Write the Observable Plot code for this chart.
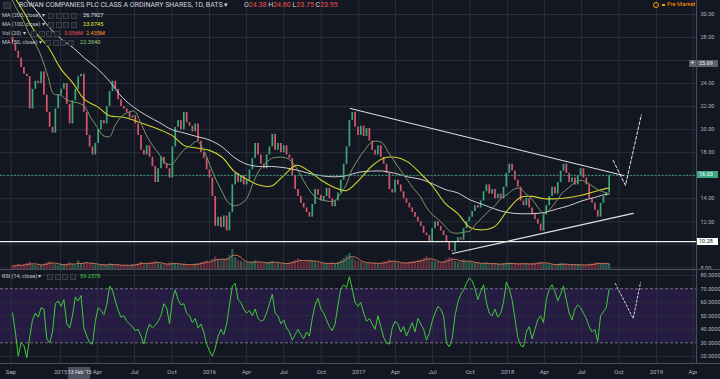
<!DOCTYPE html>
<html><head><meta charset="utf-8">
<script src="https://cdn.jsdelivr.net/npm/d3@7"></script>
<script src="https://cdn.jsdelivr.net/npm/@observablehq/plot@0.6"></script>
<style>
html,body{margin:0;padding:0;background:#131722;overflow:hidden}
#wrap{position:relative;width:720px;height:379px;overflow:hidden;background:#131722;font-family:Roboto,"Open Sans",sans-serif}
#main,#rsi{position:absolute;left:0}
#main{top:0}#rsi{top:270px}
.t{position:absolute;white-space:nowrap;line-height:1}
.bx{position:absolute;width:6px;height:6px;border:1px solid #3a3e4a;background:#1c202b;box-sizing:border-box}
.ln{position:absolute;background:#4a4e5a}
.tag{position:absolute;left:697px;width:21px;height:7px;font-size:5.5px;line-height:7px;text-align:left;padding-left:2px;box-sizing:border-box;white-space:nowrap}
</style></head>
<body><div id="wrap"><div id="main"></div><div id="rsi"></div><div id="ov"></div></div>
<script>
// ---------- data ----------
const startWeek = "2014-09-05";   // first weekly bar
const firstOpen = 28.0;
const closes = [
27.5,26.8,26.2,25.4,24.8,24.6,21.8,23.5,24.2,24.0,
25.0,23.0,21.5,20.2,19.7,21.8,23.0,23.5,24.0,22.2,
20.5,22.5,23.5,24.6,24.8,21.5,19.5,18.5,17.8,18.8,
20.0,20.8,20.5,22.0,23.3,24.2,23.5,22.6,22.0,21.8,
21.5,21.0,21.2,20.5,19.5,18.2,17.8,18.6,17.6,16.8,
15.4,16.6,17.6,17.0,16.6,15.8,18.5,20.2,20.8,20.0,
21.5,20.6,20.3,19.8,20.5,19.0,18.0,17.5,16.5,15.8,
14.2,11.6,12.4,11.5,12.5,11.2,12.8,15.2,16.2,15.4,
16.0,15.2,15.6,16.5,17.5,18.8,17.8,17.0,16.6,17.8,
18.5,19.6,18.2,18.8,18.0,18.6,17.8,17.5,16.0,14.8,
14.2,13.6,13.2,12.8,12.4,13.5,14.8,14.3,13.8,14.2,
14.9,14.0,13.3,13.8,14.5,15.6,17.0,18.5,20.8,21.5,
20.2,19.5,20.3,19.4,20.1,19.0,18.2,17.8,18.6,17.6,
17.0,16.2,14.8,14.5,15.6,15.2,14.6,14.0,13.6,13.2,
12.8,12.4,12.0,11.6,11.0,10.8,10.2,11.4,12.0,11.6,
11.2,10.8,10.2,9.5,9.4,10.2,10.6,10.4,11.4,12.0,
12.4,12.9,13.4,13.2,13.8,14.6,15.2,14.4,14.8,14.0,
14.4,14.0,15.0,16.2,17.0,16.4,15.6,15.0,13.8,13.4,
14.0,13.2,12.6,12.2,11.8,11.2,12.6,13.4,14.2,15.0,
14.4,15.4,16.4,17.0,16.2,15.4,15.8,15.2,16.0,16.6,
15.8,15.2,14.0,13.6,13.0,12.4,13.6,14.2,14.5,16.03];
const rsiValues = [
52,38,20,30,28,19,34,47,52,49,
56,55,33,30,38,59,61,57,62,44,
41,50,64,61,65,41,35,30,29,46,
56,54,51,58,72,69,61,54,49,50,
46,44,42,39,40,35,29,38,44,41,
43,46,50,59,56,44,62,69,62,58,
59,52,50,45,48,41,44,38,29,24,
20,26,35,40,36,44,58,72,74,62,
60,55,52,54,50,55,48,46,47,52,
59,66,52,50,44,47,41,38,32,36,
40,36,33,38,35,48,58,63,55,52,
47,42,39,44,58,70,73,71,79,70,
60,57,60,52,46,48,44,40,50,42,
34,30,29,41,46,44,38,42,35,40,
45,38,48,44,40,32,37,46,52,57,
55,50,30,27,33,50,60,66,69,74,
78,76,70,62,68,73,60,52,50,55,
49,52,60,75,70,62,48,34,28,27,
38,42,33,40,47,50,45,62,70,73,
68,61,66,72,62,52,47,55,58,56,
52,48,42,38,40,31,50,53,56,70];
const volumes = [
2.2,2.6,3.1,2.4,2.8,3.5,4.2,2.9,2.5,3.0,
2.7,3.2,3.8,4.4,3.6,2.9,2.6,3.1,2.8,3.3,
3.9,3.0,2.7,4.8,3.5,3.6,4.0,3.2,3.7,2.9,
2.8,2.6,3.0,2.7,3.4,2.9,2.5,2.8,2.4,2.6,
2.7,2.5,2.9,3.1,3.6,4.1,3.4,3.0,3.8,4.2,
4.6,3.5,3.1,2.9,3.2,3.8,3.6,3.3,2.9,3.0,
3.2,2.8,2.7,3.0,3.3,3.5,3.9,4.3,4.8,4.1,
5.6,6.8,5.2,4.9,5.5,6.2,7.5,10.5,6.4,5.1,
4.6,4.2,4.0,3.8,4.3,4.9,4.1,3.7,3.5,3.9,
4.2,4.6,3.8,3.5,3.3,3.6,3.4,3.9,4.5,5.0,
5.8,4.9,4.4,4.6,5.2,4.8,4.1,3.7,3.5,3.6,
3.4,3.3,3.8,3.5,4.0,4.9,6.0,7.2,8.5,6.1,
5.0,4.4,4.1,3.9,3.6,3.8,3.5,3.7,3.4,3.6,
4.2,4.6,5.3,4.5,4.0,3.8,3.5,3.7,3.9,4.1,
4.4,4.6,4.9,5.2,5.9,6.8,5.5,4.7,4.3,4.0,
3.8,4.4,5.6,6.5,5.8,4.6,4.1,4.5,5.4,4.6,
4.2,3.9,3.6,3.8,3.4,3.5,3.8,3.3,3.1,3.4,
3.2,3.0,3.5,3.8,3.6,3.2,3.0,3.3,3.7,3.5,
3.1,3.0,3.4,3.6,3.9,4.2,3.7,3.3,3.0,2.9,
2.8,3.1,3.4,3.2,2.9,2.7,2.8,3.0,2.9,2.7,
2.6,2.8,3.1,3.3,3.6,3.9,3.4,3.2,3.5,3.1];
// monthly (1st of month, Sep 2014 .. Sep 2018, then 7 Sep 2018)
const ma200 = [32.8,31.6,30.4,29.0,
27.9,27.1,26.2,25.3,24.2,22.8,21.9,21.2,20.6,20.0,19.7,19.4,
19.1,18.5,17.6,17.0,16.8,16.8,16.7,16.5,16.2,16.0,15.9,16.0,
16.3,16.4,16.4,16.2,15.9,15.7,15.3,14.8,14.5,13.9,13.5,13.1,
12.8,12.7,12.7,12.8,13.1,13.4,13.8,14.1,14.4,14.4];
const ma100 = [32.0,30.3,28.4,27.2,
25.3,24.0,22.6,22.0,21.2,21.1,20.8,20.4,20.0,19.5,18.6,18.4,
18.2,17.6,16.4,15.7,15.2,15.1,16.0,16.9,16.4,15.6,15.0,14.7,
15.6,16.8,17.5,17.6,17.2,16.2,15.1,13.6,12.7,11.5,11.3,11.6,
13.0,14.1,14.2,14.0,14.0,14.1,14.3,14.6,14.9,14.9];
// semi-monthly (1st and 15th, Sep 2014 .. 1 Sep 2018, then 7 Sep 2018)
const ma50 = [31.5,30.5,29.5,28.4,27.4,26.3,24.6,23.1,
23.0,22.6,22.4,22.3,22.0,21.1,20.2,19.5,19.4,20.4,21.2,21.5,21.6,20.7,19.4,18.6,17.8,17.1,17.0,17.6,18.3,18.6,19.0,18.4,
17.0,15.8,14.6,13.7,13.4,13.5,14.0,15.2,16.4,17.0,17.5,17.6,17.6,17.4,16.7,15.8,14.8,14.2,13.9,13.8,13.8,14.3,15.2,16.5,
17.5,18.2,18.9,19.0,18.8,18.0,17.1,16.4,15.6,14.9,14.2,13.3,12.6,12.2,11.6,11.1,11.0,11.1,11.2,11.8,12.4,12.9,13.4,14.0,
14.4,14.8,14.9,14.4,14.0,13.3,12.7,13.1,13.8,14.5,15.0,15.4,15.6,15.4,15.0,14.7,14.5,14.4];
const priceGrid = [8,10,12,14,16,18,20,22,24,26,28,30];
const priceLabels = [8,12,14,18,20,22,24,28,30];   // 10, 16 and 26 sit under the price tags
const rsiTicks = [20,30,40,50,60,70,80];
const rsiGridLevels = [20,40,50,60,80];
const rsiBand = [30,70];
const xTickDates = ["2014-09-01","2015-01-01","2015-04-01","2015-07-01","2015-10-01","2016-01-01","2016-04-01","2016-07-01","2016-10-01","2017-01-01","2017-04-01","2017-07-01","2017-10-01","2018-01-01","2018-04-01","2018-07-01","2018-10-01","2019-01-01","2019-04-01"];
const lastPrice = 16.03, supportLevel = 10.28, crossPrice = 25.69, crossDate = "2015-02-13";
const upperTrend = [["2016-12-11",21.84],["2018-10-12",16.02]];
const lowerTrend = [["2017-08-19",9.24],["2018-11-05",12.72]];
const priceProjection = [["2018-09-17",17.32],["2018-10-17",15.15],["2018-11-25",21.3]];
const rsiProjection = [["2018-09-22",73.9],["2018-11-05",48],["2018-11-23",74.7]];

// ---------- build ----------
const D = s => new Date(s + "T00:00Z");
const t0 = D(startWeek);
const bars = closes.map((c, i) => ({date: d3.utcDay.offset(t0, 7 * i), open: i ? closes[i - 1] : firstOpen, close: c, vol: volumes[i], rsi: rsiValues[i]}));
const monthly = d3.utcMonth.range(D("2014-09-01"), D("2018-09-02"));
const monthDates = [...monthly, D("2018-09-07")];
const halfDates = monthly.flatMap(m => [m, d3.utcDay.offset(m, 14)]).slice(0, 97).concat([D("2018-09-07")]);
const maSeries = (dates, vals) => vals.map((v, i) => ({date: dates[i], v}));
const pts = arr => arr.map(([d, v]) => ({date: D(d), v}));
const xTicks = xTickDates.map(D);

const xDomain = [new Date("2014-08-06T12:00Z"), new Date("2019-04-09T05:00Z")];
const yDomainMain = [7.766, 31.216];
const volBase = yDomainMain[0], volK = 0.174;
const grid = "#2a2e3b";
const up = "#3da57a", down = "#d9566f";
const fmtX = d => d.getUTCMonth() === 0 ? String(d.getUTCFullYear()) : d3.utcFormat("%b")(d);

const main = Plot.plot({
  width: 720, height: 270, marginLeft: 0, marginRight: 24, marginTop: 0, marginBottom: 0,
  style: {background: "transparent", color: "#b2b5be", fontSize: "5.5px", fontFamily: "Roboto, sans-serif", overflow: "visible"},
  x: {type: "utc", domain: xDomain},
  y: {domain: yDomainMain},
  marks: [
    Plot.ruleY(priceGrid, {stroke: grid, strokeWidth: 1}),
    Plot.ruleX(xTicks, {stroke: grid, strokeWidth: 1}),
    Plot.ruleX(bars, {x: "date", y1: volBase, y2: d => volBase + d.vol * volK, stroke: d => d.close >= d.open ? "#2c5f4e" : "#6b3040", strokeWidth: 2.2}),
    Plot.lineY(bars, Plot.windowY({k: 4, reduce: "mean", anchor: "end"}, {x: "date", y: d => volBase + d.vol * volK, stroke: "#d27a55", strokeWidth: 0.9})),
    Plot.ruleX(bars, {x: "date", y1: "open", y2: d => Math.abs(d.close - d.open) < 0.08 ? d.open + 0.08 : d.close, stroke: d => d.close >= d.open ? up : down, strokeWidth: 1.7}),
    Plot.line(maSeries(monthDates, ma200), {x: "date", y: "v", stroke: "#cfd0d4", strokeWidth: 1, curve: "catmull-rom", clip: true}),
    Plot.line(maSeries(monthDates, ma100), {x: "date", y: "v", stroke: "#d2d22c", strokeWidth: 1.1, curve: "catmull-rom", clip: true}),
    Plot.line(maSeries(halfDates, ma50), {x: "date", y: "v", stroke: "#7b9868", strokeWidth: 1, curve: "catmull-rom", clip: true}),
    Plot.ruleY([lastPrice], {stroke: "#3a9a7c", strokeWidth: 1, strokeDasharray: "2,1.5"}),
    Plot.ruleY([supportLevel], {stroke: "#f0f0f0", strokeWidth: 1.2}),
    Plot.line(pts(upperTrend), {x: "date", y: "v", stroke: "#e4e4e4", strokeWidth: 1}),
    Plot.line(pts(lowerTrend), {x: "date", y: "v", stroke: "#e4e4e4", strokeWidth: 1.2}),
    Plot.line(pts(priceProjection), {x: "date", y: "v", stroke: "#e4e4e4", strokeWidth: 1, strokeDasharray: "3,2"}),
    Plot.axisY(priceLabels, {anchor: "right", tickSize: 0, tickPadding: 4, tickFormat: d => d.toFixed(2), fontSize: 5.5, label: null}),
    Plot.axisX([], {anchor: "bottom", label: null})
  ]
});
document.getElementById("main").append(main);

const rsi = Plot.plot({
  width: 720, height: 109, marginLeft: 0, marginRight: 24, marginTop: 0, marginBottom: 16,
  style: {background: "transparent", color: "#b2b5be", fontSize: "5.5px", fontFamily: "Roboto, sans-serif", overflow: "visible"},
  x: {type: "utc", domain: xDomain},
  y: {domain: [14.67, 83.56]},
  marks: [
    Plot.rect([rsiBand], {y1: d => d[0], y2: d => d[1], fill: "#261b43"}),
    Plot.ruleY(rsiGridLevels, {stroke: grid}),
    Plot.ruleX(xTicks, {stroke: grid}),
    Plot.ruleY(rsiBand, {stroke: "#7d7f8a", strokeDasharray: "3,2", strokeWidth: 0.9}),
    Plot.line(bars, {x: "date", y: "rsi", stroke: "#3fcb3a", strokeWidth: 1}),
    Plot.line(pts(rsiProjection), {x: "date", y: "v", stroke: "#d8d8e0", strokeWidth: 1, strokeDasharray: "2,2"}),
    Plot.axisY(rsiTicks, {anchor: "right", tickSize: 0, tickPadding: 4, tickFormat: d => d.toFixed(4), fontSize: 5.5, label: null}),
    Plot.axisX(xTicks, {anchor: "bottom", tickSize: 0, tickPadding: 6.5, tickFormat: fmtX, fontSize: 6, label: null})
  ]
});
document.getElementById("rsi").append(rsi);

// ---------- overlays (text, labels, panel borders) ----------
const yM = main.scale("y"), xR = rsi.scale("x");
const ov = document.getElementById("ov");
let h = "";
const T = (txt, left, top, size, color, extra = "") => h += `<div class="t" style="left:${left}px;top:${top}px;font-size:${size}px;color:${color};${extra}">${txt}</div>`;
const boxes = (left, top) => { for (let k = 0; k < 4; k++) h += `<div class="bx" style="left:${left + k * 7.5}px;top:${top}px"></div>`; };
// panel borders
h += `<div class="ln" style="left:696px;top:0;width:1px;height:363px"></div>`;
h += `<div class="ln" style="left:0;top:269px;width:720px;height:1px"></div>`;
h += `<div class="ln" style="left:0;top:363px;width:720px;height:1px"></div>`;
h += `<div style="position:absolute;left:697px;top:364px;width:23px;height:15px;background:#131722"></div>`;
// legend
h += `<div class="bx" style="left:3px;top:2px;width:8px;height:7px;background:#2a2e39"></div>`;
T("ROWAN COMPANIES PLC CLASS A ORDINARY SHARES, 1D, BATS ▾", 19, 2.2, 7, "#d1d4dc");
T(`O<span style="color:#ef5350">24.38</span> H<span style="color:#ef5350">24.60</span> L<span style="color:#ef5350">23.75</span> C<span style="color:#ef5350">23.95</span>`, 244, 2.2, 7, "#d1d4dc");
T("MA (200, close) ▾", 2, 12.8, 5.5, "#c3c6ce"); boxes(48, 12.5); T("26.7927", 83, 12.8, 5.6, "#e0e3eb");
T("MA (100, close) ▾", 2, 21.8, 5.5, "#c3c6ce"); boxes(48, 21.5); T("23.0745", 83, 21.8, 5.6, "#eaea2e");
T("Vol (20) ▾", 2, 30.8, 5.5, "#c3c6ce"); boxes(31, 30.5); T("3.056M", 64, 30.8, 5.6, "#ef5350"); T("2.435M", 86, 30.8, 5.6, "#ff9a2e");
T("MA (50, close) ▾", 2, 39.8, 5.5, "#c3c6ce"); boxes(45, 39.5); T("22.3040", 80, 39.8, 5.6, "#9fd27a");
T("RSI (14, close) ▾", 2, 273.8, 5.5, "#c3c6ce"); boxes(47, 273.5); T("59.2578", 80, 273.8, 5.6, "#43d43a");
// pre market
h += `<div style="position:absolute;left:653px;top:1.5px;width:6px;height:6px;border:1px solid #ff9800;border-radius:50%;box-sizing:border-box"></div>`;
h += `<div style="position:absolute;left:662px;top:3.5px;width:2.5px;height:2.5px;background:#ff9800"></div>`;
T("Pre Market", 667, 2.2, 5.8, "#ff9800");
// price tags on the right axis
const tag = (v, bg, fg) => h += `<div class="tag" style="top:${yM.apply(v) - 3.5}px;background:${bg};color:${fg}">${v.toFixed(2)}</div>`;
tag(crossPrice, "#5d606b", "#e8e8ee");
h += `<div style="position:absolute;left:689px;top:${yM.apply(crossPrice) - 3.5}px;width:7px;height:7px;background:#5d606b;color:#e8e8ee;font-size:7px;line-height:7px;text-align:center">+</div>`;
tag(lastPrice, "#3ba880", "#ffffff");
tag(supportLevel, "#ffffff", "#131722");
// crosshair date label (fitted between the "2015" and "Apr" tick labels)
const cx = xR.apply(D(crossDate));
h += `<div class="t" style="left:${cx - 9.8}px;top:367px;width:22.5px;height:12px;background:#4c525e;color:#e8e8ee;font-size:5.2px;line-height:11px;text-align:center">13 Feb '15</div>`;
ov.innerHTML = h;
</script></body></html>
